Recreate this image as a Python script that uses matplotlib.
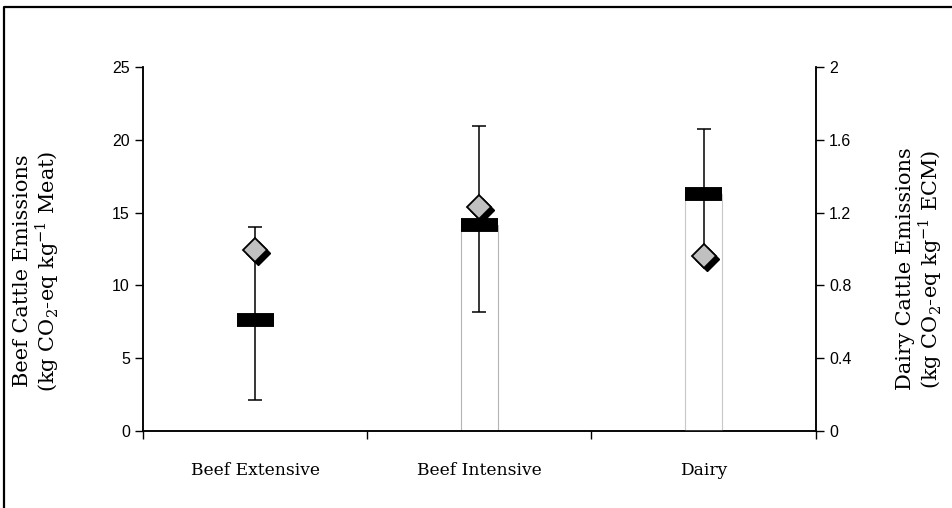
import matplotlib
matplotlib.use("Agg")
import matplotlib.pyplot as plt
from matplotlib.lines import Line2D
from matplotlib.transforms import offset_copy

plt.rcParams['mathtext.fontset'] = 'custom'
plt.rcParams['mathtext.rm'] = 'DejaVu Serif'

# data
categories = ['Beef Extensive', 'Beef Intensive', 'Dairy']
beef_mean = [7.6, 14.15]
beef_point = [12.4, 15.4]
beef_low = [2.1, 8.2]
beef_high = [14.0, 20.95]
dairy_mean = [1.30]
dairy_point = [0.96]
dairy_low = [0.96]
dairy_high = [1.66]


def drawGroup(ax, fig, xs, mean, point, low, high, edges):
    width = 0.165
    ax.bar(xs, mean, width=width, color='white', edgecolor=edges,
           linewidth=0.8, zorder=1)
    yerr = [[m - l for m, l in zip(mean, low)],
            [h - m for m, h in zip(mean, high)]]
    ax.errorbar(xs, mean, yerr=yerr, fmt='none', ecolor='black',
                elinewidth=1.1, capsize=5, capthick=1.1, zorder=2)
    ax.hlines(mean, [x - width / 2 for x in xs], [x + width / 2 for x in xs],
              colors='black', linewidth=10, zorder=3)
    shadow = offset_copy(ax.transData, fig=fig, x=3, y=-3, units='dots')
    ax.plot(xs, point, linestyle='none', marker='D', markersize=12,
            color='black', transform=shadow, zorder=4)
    ax.plot(xs, point, linestyle='none', marker='D', markersize=12,
            markerfacecolor='#c0c0c0', markeredgecolor='black',
            markeredgewidth=1.3, zorder=5)


fig = plt.figure(figsize=(9.53, 5.08), dpi=100)
ax = fig.add_axes([0.150, 0.1516, 0.706, 0.7165])
ax2 = ax.twinx()

drawGroup(ax, fig, [0, 1], beef_mean, beef_point, beef_low, beef_high,
          ['white', '#b4b4b4'])
drawGroup(ax2, fig, [2], dairy_mean, dairy_point, dairy_low, dairy_high,
          ['#c8c8c8'])

ax.set_xlim(-0.5, 2.5)
ax.set_ylim(0, 25)
ax2.set_ylim(0, 2)
ax.set_yticks([0, 5, 10, 15, 20, 25])
ax2.set_yticks([0, 0.4, 0.8, 1.2, 1.6, 2])
ax2.set_yticklabels(['0', '0.4', '0.8', '1.2', '1.6', '2'])

ax.set_xticks([-0.5, 0.5, 1.5, 2.5])
ax.set_xticklabels([])
ax.set_xticks([0, 1, 2], minor=True)
ax.set_xticklabels(categories, minor=True, family='DejaVu Serif',
                   fontsize=12.3)
ax.tick_params(axis='x', which='minor', length=0, pad=22)
ax.tick_params(axis='x', which='major', length=6, width=1, direction='out')

for a in (ax, ax2):
    a.spines['top'].set_visible(False)
    for s in a.spines.values():
        s.set_linewidth(1.1)
    a.tick_params(axis='y', length=6, width=1, direction='out',
                  labelsize=11.5)
    for lab in a.get_yticklabels():
        lab.set_family('Liberation Sans')

ax.set_ylabel('Beef Cattle Emissions\n(kg CO$_2$-eq kg$^{-1}$ Meat)',
              family='DejaVu Serif', fontsize=15, linespacing=1.05)
ax2.set_ylabel('Dairy Cattle Emissions\n(kg CO$_2$-eq kg$^{-1}$ ECM)',
               family='DejaVu Serif', fontsize=15, linespacing=1.05)
ax.yaxis.set_label_coords(-0.122, 0.44)
ax2.yaxis.set_label_coords(1.119, 0.445)

# outer frame (only top and left edges visible)
fig.add_artist(Line2D([4 / 953, 4 / 953, 1], [0, 1 - 7 / 508, 1 - 7 / 508],
                      transform=fig.transFigure, color='black', linewidth=1.6))

fig.savefig('out.png', dpi=100)
